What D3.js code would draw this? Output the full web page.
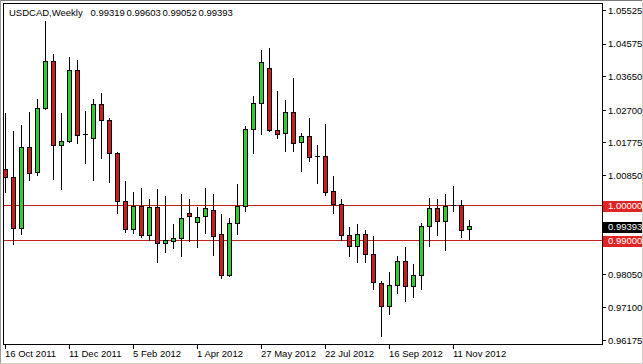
<!DOCTYPE html>
<html>
<head>
<meta charset="utf-8">
<script src="https://cdn.jsdelivr.net/npm/d3@7"></script>
<style>
  body { margin: 0; background: #fff; }
  svg { display: block; }
  text { font-family: "Liberation Sans", Arial, sans-serif; font-size: 9.5px; }
</style>
</head>
<body>
<svg id="chart" width="643" height="364"></svg>
<script>
const symbol = 'USDCAD,Weekly'
const lastBar = [0.99319, 0.99603, 0.99052, 0.99393]
const firstWeek = new Date(Date.UTC(2011, 9, 16))

// weekly candles, 16 Oct 2011 .. 25 Nov 2012
const opens = [1.01025, 1.00798, 0.99353, 1.01657, 1.00929, 1.02754, 1.04094, 1.01705, 1.01819, 1.03839,
  1.02005, 1.01904, 1.02875, 1.02414, 1.01478, 1.00107, 0.99325, 0.99965, 0.99143, 0.99948,
  0.98928, 0.99002, 0.99070, 0.99778, 0.99540, 0.99682, 0.99872, 0.99183, 0.98010, 0.99495,
  0.99965, 1.02159, 1.02895, 1.03887, 1.02139, 1.02045, 1.02640, 1.01790, 1.01969, 1.01380,
  1.01402, 1.00410, 1.00033, 0.99143, 0.98843, 0.99183, 0.98616, 0.97795, 0.97143, 0.97738,
  0.98427, 0.97710, 0.98021, 0.99410, 0.99920, 0.99552, 1.00000, 1.00005, 0.99319]
const highs = [1.02612, 1.02110, 1.02280, 1.02649, 1.03017, 1.05227, 1.04292, 1.02612, 1.04207, 1.04122,
  1.02677, 1.03017, 1.03196, 1.02470, 1.01524, 1.00694, 1.00373, 1.00487, 1.00175, 1.00467,
  1.00268, 0.99475, 1.00325, 1.00183, 0.99965, 1.00495, 1.00325, 0.99758, 0.99636, 1.00609,
  1.02244, 1.03102, 1.04406, 1.04454, 1.03244, 1.02989, 1.03612, 1.02062, 1.02470, 1.01714,
  1.02309, 1.00835, 1.00175, 0.99381, 0.99475, 0.99296, 0.99143, 0.97868, 0.98123, 0.98568,
  0.98815, 0.98333, 0.99495, 1.00203, 1.00175, 1.00325, 1.00552, 1.00147, 0.99603]
const lows = [1.00390, 0.98900, 0.99192, 1.00722, 1.00864, 1.02740, 1.00750, 1.00467, 1.01800, 1.01779,
  1.01212, 1.00722, 1.01354, 1.00674, 0.99778, 0.99257, 0.99211, 0.99115, 0.99022, 0.98390,
  0.98690, 0.98786, 0.98577, 0.98993, 0.98832, 0.99228, 0.98597, 0.97953, 0.97990, 0.99192,
  0.99843, 1.01495, 1.02025, 1.02100, 1.01921, 1.01552, 1.01552, 1.00985, 1.01269, 1.00628,
  1.00297, 0.99778, 0.99022, 0.98577, 0.98390, 0.98390, 0.97633, 0.96301, 0.96916, 0.97528,
  0.97302, 0.97415, 0.97625, 0.98860, 0.99172, 0.98730, 0.99835, 0.99115, 0.99052]
const closes = [1.00798, 0.99353, 1.01657, 1.00929, 1.02754, 1.04094, 1.01705, 1.01819, 1.03839, 1.01989,
  1.02010, 1.02875, 1.02414, 1.01478, 1.00107, 0.99325, 0.99965, 0.99143, 0.99948, 0.98928,
  0.99002, 0.99078, 0.99645, 0.99682, 0.99673, 0.99909, 0.99143, 0.98010, 0.99495, 0.99965,
  1.02159, 1.02895, 1.04057, 1.02119, 1.02025, 1.02640, 1.01762, 1.01969, 1.01365, 1.01385,
  1.00390, 1.00033, 0.99143, 0.98843, 0.99183, 0.98616, 0.97823, 0.97143, 0.97738, 0.98427,
  0.97710, 0.98021, 0.99410, 0.99920, 0.99552, 0.99977, 1.00005, 0.99296, 0.99393]

const priceTicks = [1.05525, 1.04575, 1.03650, 1.02700, 1.01775, 1.00850, 0.98050, 0.97100, 0.96175]
const levels = [1.00000, 0.99000]
const lastPrice = 0.99393

const plot = { left: 4, right: 602, top: 4, bottom: 344 }
const svg = d3.select('#chart')

const weeks = opens.map((o, i) => d3.utcDay.offset(firstWeek, 7 * i))
const candles = weeks.map((d, i) => ({ date: d, o: opens[i], h: highs[i], l: lows[i], c: closes[i] }))

let x = d3.scaleUtc()
  .domain([weeks[0], weeks[weeks.length - 1]])
  .range([5.5, 5.5 + 8 * (weeks.length - 1)])
let y = d3.scaleLinear()
  .domain([0.96175, 1.05525])
  .range([340.5, 10.5])

let crisp = v => Math.round(v - 0.5) + 0.5

// window frame
svg.append('rect').attr('x', 0).attr('y', 0).attr('width', 643).attr('height', 1).attr('fill', '#7a7a7a')
svg.append('rect').attr('x', 0).attr('y', 0).attr('width', 1).attr('height', 364).attr('fill', '#9a9a9a')
svg.append('rect').attr('x', 642).attr('y', 0).attr('width', 1).attr('height', 364).attr('fill', '#d4d0c8')
svg.append('rect').attr('x', 0).attr('y', 363).attr('width', 643).attr('height', 1).attr('fill', '#d4d0c8')

svg.append('clipPath').attr('id', 'plotClip')
  .append('rect')
  .attr('x', plot.left).attr('y', plot.top)
  .attr('width', plot.right - plot.left).attr('height', plot.bottom - plot.top)

let g = svg.append('g').attr('clip-path', 'url(#plotClip)')

// horizontal levels
g.selectAll('line.level')
  .data(levels)
  .enter().append('line')
    .attr('class', 'level')
    .attr('x1', plot.left).attr('x2', plot.right)
    .attr('y1', d => crisp(y(d))).attr('y2', d => crisp(y(d)))
    .attr('stroke', '#c42020')
    .attr('stroke-width', 1)

// wicks
g.selectAll('line.wick')
  .data(candles)
  .enter().append('line')
    .attr('class', 'wick')
    .attr('x1', d => x(d.date)).attr('x2', d => x(d.date))
    .attr('y1', d => Math.round(y(d.h))).attr('y2', d => Math.round(y(d.l)) + 1)
    .attr('stroke', '#000')

// bodies
let bodies = candles.filter(d => Math.abs(d.o - d.c) >= 0.0001)
g.selectAll('rect.body')
  .data(bodies)
  .enter().append('rect')
    .attr('class', 'body')
    .attr('x', d => x(d.date) - 2)
    .attr('y', d => crisp(y(Math.max(d.o, d.c))))
    .attr('width', 4)
    .attr('height', d => Math.max(1, Math.round(Math.abs(y(d.o) - y(d.c)))))
    .attr('fill', d => d.c > d.o ? '#32cd32' : '#c81e1e')
    .attr('stroke', '#000')

// doji
g.selectAll('line.doji')
  .data(candles.filter(d => Math.abs(d.o - d.c) < 0.0001))
  .enter().append('line')
    .attr('class', 'doji')
    .attr('x1', d => x(d.date) - 2.5).attr('x2', d => x(d.date) + 2.5)
    .attr('y1', d => crisp(y(d.c))).attr('y2', d => crisp(y(d.c)))
    .attr('stroke', '#000')

// plot border
svg.append('rect')
  .attr('x', plot.left - 0.5).attr('y', plot.top - 0.5)
  .attr('width', plot.right - plot.left + 1).attr('height', plot.bottom - plot.top + 1)
  .attr('fill', 'none').attr('stroke', '#000')

// price axis
let yAxis = svg.append('g')
yAxis.selectAll('line.tick')
  .data(priceTicks)
  .enter().append('line')
    .attr('class', 'tick')
    .attr('x1', plot.right + 1).attr('x2', plot.right + 4)
    .attr('y1', d => crisp(y(d))).attr('y2', d => crisp(y(d)))
    .attr('stroke', '#000')
yAxis.selectAll('text')
  .data(priceTicks)
  .enter().append('text')
    .attr('x', plot.right + 6)
    .attr('y', d => y(d))
    .attr('dy', '0.35em')
    .attr('fill', '#000')
    .text(d => d.toFixed(5))

// level and price tags
let tags = levels.map(v => ({ v: v, bg: '#e02424' })).concat([{ v: lastPrice, bg: '#000' }])
let tag = svg.append('g').selectAll('g')
  .data(tags)
  .enter().append('g')
tag.append('rect')
  .attr('x', plot.right + 1)
  .attr('y', d => Math.round(y(d.v)) - 5)
  .attr('width', 39)
  .attr('height', 11)
  .attr('fill', d => d.bg)
tag.append('text')
  .attr('x', plot.right + 6)
  .attr('y', d => y(d.v))
  .attr('dy', '0.35em')
  .attr('fill', '#fff')
  .text(d => d.v.toFixed(5))

// time axis
let timeTicks = weeks.filter((d, i) => i % 8 === 0)
let xAxis = svg.append('g')
xAxis.selectAll('line')
  .data(timeTicks)
  .enter().append('line')
    .attr('x1', d => x(d)).attr('x2', d => x(d))
    .attr('y1', plot.bottom + 1).attr('y2', plot.bottom + 5)
    .attr('stroke', '#000')
xAxis.selectAll('text')
  .data(timeTicks)
  .enter().append('text')
    .attr('x', d => x(d) - 0.5)
    .attr('y', 357)
    .attr('fill', '#000')
    .text(d3.utcFormat('%-d %b %Y'))

// header: symbol then O H L C of the last bar
let header = svg.append('g')
header.append('text')
  .attr('x', 9).attr('y', 16)
  .attr('fill', '#000')
  .text(symbol)
header.selectAll('text.ohlc')
  .data(lastBar)
  .enter().append('text')
    .attr('class', 'ohlc')
    .attr('x', (d, i) => 90.5 + 36 * i).attr('y', 16)
    .attr('fill', '#000')
    .text(d => d.toFixed(5))
</script>
</body>
</html>
